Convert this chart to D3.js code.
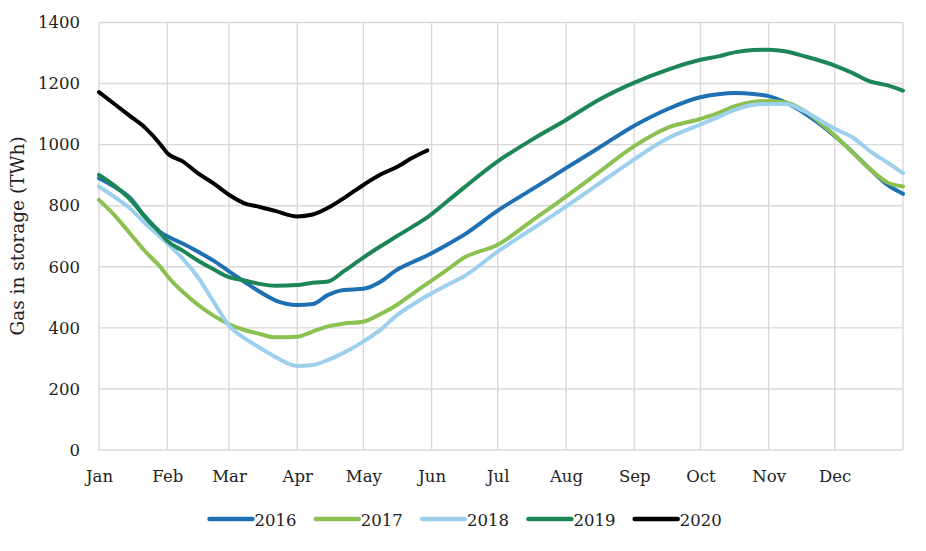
<!DOCTYPE html>
<html>
<head>
<meta charset="utf-8">
<script src="https://cdn.jsdelivr.net/npm/d3@7"></script>
<style>
  body { margin: 0; background: #fff; }
  text { font-family: "DejaVu Serif", "Liberation Serif", serif; fill: #222; }
</style>
</head>
<body>
<svg id="chart" width="926" height="551"></svg>
<script>
// month labels and first day of each month (day of year)
var months = ["Jan", "Feb", "Mar", "Apr", "May", "Jun", "Jul", "Aug", "Sep", "Oct", "Nov", "Dec"];
var monthStart = [0, 31, 59, 90, 120, 151, 181, 212, 243, 273, 304, 334];
var yTicks = [0, 200, 400, 600, 800, 1000, 1200, 1400];

// sampled days of the year, shared by every series
var days = [0, 7, 14, 21, 28, 31, 38, 45, 52, 59, 66, 73, 80, 90, 97, 104, 111, 120, 128, 135,
            142, 149, 158, 166, 181, 196, 212, 227, 243, 258, 273, 281, 289, 297, 304, 312,
            320, 334, 342, 350, 358, 365];

// gas in storage, TWh
var gas2016 = [890, 862, 826, 764, 713, 700, 676, 649, 620, 585, 551, 518, 490, 475, 478, 508, 524, 528, 552, 589,
               614, 637, 672, 706, 784, 851, 923, 990, 1062, 1116, 1155, 1165, 1169, 1166, 1159, 1137,
               1104, 1028, 976, 920, 868, 839];
var gas2017 = [819, 769, 710, 650, 598, 570, 518, 475, 440, 412, 393, 380, 369, 371, 388, 405, 414, 420, 446, 474,
               510, 545, 590, 631, 672, 748, 830, 910, 995, 1055, 1084, 1103, 1127, 1140, 1143, 1138,
               1112, 1030, 975, 920, 876, 863];
var gas2018 = [863, 829, 792, 742, 697, 677, 627, 565, 486, 408, 366, 335, 305, 275, 278, 295, 318, 355, 395, 440,
               474, 505, 540, 570, 650, 721, 797, 872, 952, 1020, 1066, 1090, 1115, 1130, 1133, 1133,
               1110, 1052, 1024, 979, 941, 907];
var gas2019 = [901, 866, 822, 762, 709, 685, 653, 620, 592, 566, 555, 544, 538, 540, 548, 552, 585, 630, 668, 699,
               730, 762, 814, 861, 945, 1014, 1081, 1147, 1203, 1245, 1278, 1289, 1303, 1310, 1311, 1305,
               1290, 1259, 1235, 1207, 1194, 1177];
var gas2020 = [1172, 1133, 1094, 1055, 1000, 972, 945, 906, 873, 836, 808, 796, 783, 765, 771, 793, 824, 868, 903, 926,
               956, 981];

var years = ["2016", "2017", "2018", "2019", "2020"];
var colors = ["#1f70b2", "#8cc152", "#9dcfee", "#1d8656", "#000000"];
var values = [gas2016, gas2017, gas2018, gas2019, gas2020];

var svg = d3.select("#chart");
var plotLeft = 99, plotRight = 903, plotTop = 22.5, plotBottom = 450;

var x = d3.scaleLinear().domain([0, 365]).range([plotLeft, plotRight]);
var y = d3.scaleLinear().domain([0, 1400]).range([plotBottom, plotTop]);

// grid
var grid = svg.append("g").attr("stroke", "#d9d9d9").attr("stroke-width", 1.4);
grid.selectAll(".h").data(yTicks).enter().append("line")
    .attr("x1", plotLeft).attr("x2", plotRight)
    .attr("y1", function(d) { return y(d); })
    .attr("y2", function(d) { return y(d); });
grid.selectAll(".v").data(monthStart.concat([365])).enter().append("line")
    .attr("x1", function(d) { return x(d); })
    .attr("x2", function(d) { return x(d); })
    .attr("y1", plotTop).attr("y2", plotBottom);

// axes (labels only)
svg.append("g")
    .attr("transform", "translate(" + plotLeft + ",0)")
    .call(d3.axisLeft(y).tickValues(yTicks).tickSize(0).tickPadding(19).tickFormat(d3.format("d")));
svg.append("g")
    .attr("transform", "translate(0," + plotBottom + ")")
    .call(d3.axisBottom(x).tickValues(monthStart).tickSize(0).tickPadding(20)
        .tickFormat(function(d, i) { return months[i]; }));
svg.selectAll(".domain").remove();
svg.selectAll(".tick text")
    .style("font-family", "DejaVu Serif, Liberation Serif, serif")
    .style("font-size", "16.5px")
    .attr("fill", "#222");

svg.append("text")
    .attr("transform", "translate(24,236) rotate(-90)")
    .attr("text-anchor", "middle")
    .style("font-size", "18.5px")
    .text("Gas in storage (TWh)");

// series
var line = d3.line()
    .x(function(d) { return x(d[0]); })
    .y(function(d) { return y(d[1]); })
    .curve(d3.curveMonotoneX);

var series = years.map(function(yr, i) {
    return values[i].map(function(v, j) { return [days[j], v]; });
});

svg.append("g").selectAll("path").data(series).enter().append("path")
    .attr("d", line)
    .attr("fill", "none")
    .attr("stroke", function(d, i) { return colors[i]; })
    .attr("stroke-width", 4)
    .attr("stroke-linejoin", "round")
    .attr("stroke-linecap", "round");

// legend
var legend = svg.append("g").selectAll("g").data(years).enter().append("g")
    .attr("transform", function(d, i) { return "translate(" + (209.5 + i * 106.3) + ",519)"; });
legend.append("line")
    .attr("x1", 0).attr("x2", 43)
    .attr("stroke", function(d, i) { return colors[i]; })
    .attr("stroke-width", 4.5)
    .attr("stroke-linecap", "round");
legend.append("text")
    .attr("x", 45).attr("y", 6.5)
    .style("font-size", "16.5px")
    .text(function(d) { return d; });
</script>
</body>
</html>
